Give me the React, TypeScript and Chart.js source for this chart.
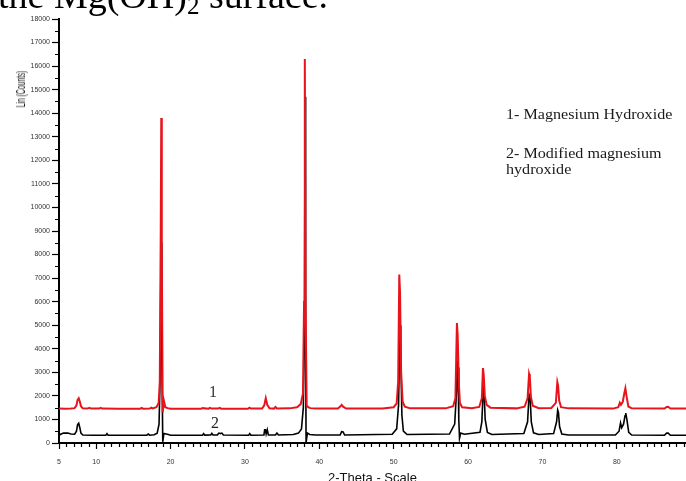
import React, { useEffect, useRef } from "react";
import { Chart, registerables } from "chart.js";

Chart.register(...registerables);

// Series 1 – Magnesium Hydroxide (red), offset trace
const angle1 = [5, 5.8, 6.6, 7.1, 7.35, 7.5, 7.65, 7.8, 7.95, 8.2, 8.8, 9.1, 9.3, 10.4, 10.6, 10.8, 13, 15.9, 16.1, 16.3, 17.2, 17.4, 17.6, 18.1, 18.4, 18.55, 18.68, 18.75, 18.82, 18.95, 19.1, 19.3, 19.6, 20.0, 22, 24.1, 24.3, 25.1, 25.3, 25.5, 26.4, 26.6, 26.8, 30.4, 30.6, 30.8, 32.3, 32.6, 32.8, 33.0, 33.3, 33.9, 34.1, 34.3, 36.0, 37.0, 37.5, 37.8, 37.95, 38.05, 38.15, 38.3, 38.5, 38.8, 39.5, 42.5, 42.85, 43.0, 43.2, 43.6, 48.5, 50.0, 50.4, 50.6, 50.75, 50.85, 51.0, 51.2, 51.5, 52.2, 57, 58.0, 58.3, 58.5, 58.6, 58.75, 58.9, 59.2, 60.5, 61.5, 61.85, 62.0, 62.1, 62.25, 62.5, 63, 66.5, 67.6, 68.0, 68.2, 68.3, 68.45, 68.7, 69.5, 71.2, 71.8, 72.0, 72.1, 72.25, 72.5, 73.5, 79.5, 80.2, 80.4, 80.55, 80.8, 81.0, 81.15, 81.3, 81.55, 82.0, 86.4, 86.7, 86.9, 87.2, 89.5];
const counts1 = [1460, 1450, 1460, 1480, 1600, 1830, 1900, 1760, 1560, 1470, 1460, 1490, 1460, 1460, 1490, 1460, 1450, 1450, 1490, 1455, 1460, 1500, 1470, 1520, 1700, 2600, 9000, 13800, 8000, 1300, 1800, 1520, 1480, 1455, 1450, 1450, 1480, 1455, 1490, 1460, 1460, 1490, 1455, 1455, 1500, 1460, 1460, 1600, 1900, 1620, 1470, 1460, 1530, 1465, 1470, 1520, 1650, 2100, 6000, 16300, 6000, 1600, 1520, 1480, 1460, 1460, 1560, 1620, 1540, 1465, 1460, 1520, 1680, 2600, 7150, 6400, 3000, 1750, 1540, 1470, 1470, 1560, 1900, 5090, 4600, 2600, 1700, 1520, 1480, 1530, 1900, 3180, 2900, 2000, 1620, 1500, 1470, 1540, 1900, 2930, 2800, 1950, 1580, 1480, 1490, 1700, 2590, 2450, 1800, 1520, 1470, 1460, 1520, 1710, 1620, 1750, 2100, 2320, 2000, 1550, 1470, 1460, 1530, 1540, 1465, 1460];

// Series 2 – Modified magnesium hydroxide (black)
const angle2 = [5, 5.3, 5.6, 6.2, 6.6, 7.1, 7.35, 7.5, 7.65, 7.8, 7.95, 8.2, 9.5, 11.3, 11.45, 11.6, 16.8, 17.0, 17.2, 17.8, 18.2, 18.45, 18.6, 18.72, 18.82, 18.95, 19.1, 19.4, 19.7, 20, 24.3, 24.45, 24.6, 25.4, 25.55, 25.7, 26.3, 26.5, 26.7, 26.9, 27.1, 30.5, 30.65, 30.8, 32.55, 32.65, 32.75, 32.85, 33.0, 33.15, 34.1, 34.3, 34.5, 36.5, 37.2, 37.6, 37.85, 38.0, 38.08, 38.16, 38.22, 38.4, 38.7, 39.5, 42.8, 43.0, 43.2, 43.4, 49.8, 50.4, 50.65, 50.85, 50.95, 51.1, 51.3, 51.8, 57.5, 58.2, 58.45, 58.55, 58.65, 58.75, 58.85, 59.0, 59.5, 61.6, 61.85, 62.05, 62.15, 62.3, 62.6, 63.2, 67.5, 68.0, 68.2, 68.35, 68.5, 68.8, 69.5, 71.5, 71.9, 72.05, 72.15, 72.3, 72.6, 73.5, 79.8, 80.3, 80.5, 80.65, 80.9, 81.1, 81.2, 81.35, 81.6, 82.0, 86.4, 86.7, 86.9, 87.2, 89.5];
const counts2 = [330, 380, 420, 420, 380, 370, 500, 780, 840, 650, 420, 340, 330, 330, 400, 330, 330, 380, 330, 350, 420, 800, 2800, 8500, 4000, 50, 400, 380, 360, 330, 330, 400, 335, 340, 410, 340, 345, 420, 400, 420, 340, 330, 400, 330, 340, 560, 560, 380, 560, 340, 340, 420, 340, 360, 420, 600, 1500, 5000, 14700, 4000, 30, 420, 360, 340, 340, 480, 470, 340, 370, 600, 1600, 5000, 3800, 1200, 500, 360, 380, 800, 2200, 3500, 3200, 1000, 200, 420, 370, 450, 900, 2350, 2200, 1000, 450, 360, 400, 900, 2050, 1900, 900, 430, 360, 400, 900, 1400, 1300, 700, 380, 340, 340, 500, 850, 650, 800, 1150, 1270, 1000, 450, 340, 330, 420, 420, 330, 330];

// Axis ticks
const xMajorTicks = [5, 10, 20, 30, 40, 50, 60, 70, 80];
const yMajorTicks = [0, 1000, 2000, 3000, 4000, 5000, 6000, 7000, 8000, 9000, 10000, 11000, 12000, 13000, 14000, 15000, 16000, 17000, 18000];
const xMinorStep = 1;
const yMinorStep = 500;

const minorTicksPlugin = {
  id: "minorTicks",
  afterDraw(chart: any) {
    const ctx = chart.ctx;
    const xs = chart.scales.x;
    const ys = chart.scales.y;
    ctx.save();
    ctx.strokeStyle = "#000";
    ctx.lineWidth = 1.2;
    ctx.beginPath();
    for (let v = xs.min; v <= xs.max; v += xMinorStep) {
      if (xMajorTicks.includes(v)) continue;
      const px = Math.round(xs.getPixelForValue(v)) + 0.5;
      ctx.moveTo(px, xs.top);
      ctx.lineTo(px, xs.top + 4);
    }
    for (let v = ys.min; v <= ys.max; v += yMinorStep) {
      if (yMajorTicks.includes(v)) continue;
      const py = Math.round(ys.getPixelForValue(v)) + 0.5;
      ctx.moveTo(ys.right - 4, py);
      ctx.lineTo(ys.right, py);
    }
    ctx.stroke();
    ctx.restore();
  },
};

export default function App() {
  const ref = useRef<HTMLCanvasElement | null>(null);

  useEffect(() => {
    if (!ref.current) return;
    const chart = new Chart(ref.current, {
      type: "line",
      data: {
        datasets: [
          {
            label: "1- Magnesium Hydroxide",
            data: angle1.map((a, i) => ({ x: a, y: counts1[i] })),
            borderColor: "#e8141c",
            borderWidth: 2,
            pointRadius: 0,
            tension: 0,
            order: 0,
          },
          {
            label: "2- Modified magnesium hydroxide",
            data: angle2.map((a, i) => ({ x: a, y: counts2[i] })),
            borderColor: "#000000",
            borderWidth: 1.6,
            pointRadius: 0,
            tension: 0,
            order: 1,
          },
        ],
      },
      options: {
        animation: false,
        responsive: false,
        maintainAspectRatio: false,
        layout: { padding: { left: 0, top: 19, right: 0, bottom: 0 } },
        plugins: {
          legend: { display: false },
          tooltip: { enabled: false },
          title: { display: false },
        },
        scales: {
          x: {
            type: "linear",
            min: 5,
            max: 89.3,
            afterFit: (s: any) => {
              s.height = 38;
            },
            afterBuildTicks: (s: any) => {
              s.ticks = xMajorTicks.map((v) => ({ value: v }));
            },
            ticks: {
              autoSkip: false,
              maxRotation: 0,
              padding: 9,
              color: "#333",
              font: { family: "Liberation Sans", size: 7 },
              callback: (v: any) => String(v),
            },
            grid: {
              display: true,
              drawOnChartArea: false,
              drawTicks: true,
              tickLength: 6,
              tickColor: "#000",
              tickWidth: 1.2,
            },
            border: { display: true, color: "#000", width: 2 },
          },
          y: {
            type: "linear",
            min: 0,
            max: 18000,
            afterFit: (s: any) => {
              s.width = 59;
            },
            afterBuildTicks: (s: any) => {
              s.ticks = yMajorTicks.map((v) => ({ value: v }));
            },
            ticks: {
              autoSkip: false,
              padding: 2,
              color: "#333",
              font: { family: "Liberation Sans", size: 7 },
              callback: (v: any) => String(v),
            },
            grid: {
              display: true,
              drawOnChartArea: false,
              drawTicks: true,
              tickLength: 7,
              tickColor: "#000",
              tickWidth: 1.2,
            },
            border: { display: true, color: "#000", width: 2 },
          },
        },
      },
      plugins: [minorTicksPlugin],
    });
    return () => chart.destroy();
  }, []);

  const serif = "'Liberation Serif', 'Times New Roman', serif";
  const sans = "'Liberation Sans', Arial, sans-serif";

  return (
    <div
      style={{
        position: "fixed",
        left: 0,
        top: 0,
        width: 686,
        height: 481,
        overflow: "hidden",
        background: "#fff",
      }}
    >
      <canvas ref={ref} width={686} height={481} style={{ position: "absolute", left: 0, top: 0 }} />
      <div
        style={{
          position: "absolute",
          left: -2,
          top: -24,
          fontFamily: serif,
          fontSize: 38,
          lineHeight: "38px",
          whiteSpace: "nowrap",
          color: "#000",
        }}
      >
        the Mg(OH)<sub style={{ fontSize: 25, verticalAlign: "-6px" }}>2</sub> surface.
      </div>
      <div
        style={{
          position: "absolute",
          left: 21,
          top: 89,
          fontFamily: sans,
          fontSize: 12,
          lineHeight: "12px",
          whiteSpace: "nowrap",
          color: "#111",
          transform: "translate(-50%, -50%) rotate(-90deg) scaleX(0.56)",
        }}
      >
        Lin (Counts)
      </div>
      <div
        style={{
          position: "absolute",
          left: 328,
          top: 471,
          fontFamily: sans,
          fontSize: 13,
          lineHeight: "13px",
          whiteSpace: "nowrap",
          color: "#111",
        }}
      >
        2-Theta - Scale
      </div>
      <div
        style={{
          position: "absolute",
          left: 506,
          top: 107,
          fontFamily: serif,
          fontSize: 14,
          lineHeight: "16px",
          whiteSpace: "nowrap",
          color: "#1a1a1a",
          transform: "scaleX(1.15)",
          transformOrigin: "left top",
        }}
      >
        <div>1- Magnesium Hydroxide</div>
        <div style={{ marginTop: 23 }}>2- Modified magnesium</div>
        <div>hydroxide</div>
      </div>
      <div
        style={{
          position: "absolute",
          left: 209,
          top: 384,
          fontFamily: serif,
          fontSize: 16,
          lineHeight: "16px",
          color: "#333",
        }}
      >
        1
      </div>
      <div
        style={{
          position: "absolute",
          left: 211,
          top: 415,
          fontFamily: serif,
          fontSize: 16,
          lineHeight: "16px",
          color: "#222",
        }}
      >
        2
      </div>
    </div>
  );
}
